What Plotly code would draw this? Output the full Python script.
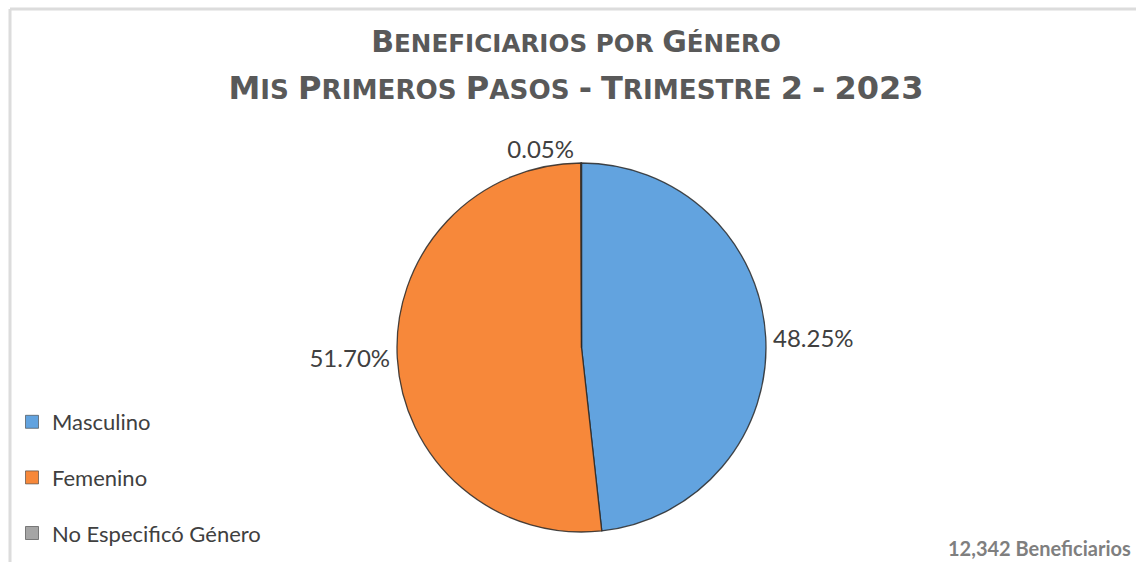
import plotly.graph_objects as go

# ---- data ----
categories = ["Masculino", "Femenino", "No Especificó Género"]
beneficiarios = [5955, 6381, 6]
slice_colors = ["#62A3DF", "#F7883A", "#A5A5A5"]
title_line1 = "Beneficiarios por Género"
title_line2 = "Mis Primeros Pasos - Trimestre 2 - 2023"
total_label = "12,342 Beneficiarios"

W, H = 1136, 562
cx, cy, r = 581.5, 347.5, 184.5
FONT = "Lato"
TFONT = "DejaVu Sans"


def small_caps(text, big, small):
    """Emulate small caps: capitals/digits at full size, lowercase at reduced size
    (the text keeps its original letters; case is changed only by textcase)."""
    out = []
    cur_size, buf = None, ""
    for ch in text:
        size = small if (ch.islower() or ch == " ") else big
        if size != cur_size and buf:
            out.append(f"<span style='font-size:{cur_size}px'>{buf}</span>")
            buf = ""
        cur_size = size
        buf += ch
    if buf:
        out.append(f"<span style='font-size:{cur_size}px'>{buf}</span>")
    return "".join(out)


fig = go.Figure()
fig.add_trace(go.Pie(
    labels=categories, values=beneficiarios, sort=False,
    direction="clockwise", rotation=0,
    marker=dict(colors=slice_colors, line=dict(color="rgba(40,40,40,0.85)", width=1.3)),
    texttemplate="%{percent:.2%}", textposition="outside",
    textfont=dict(family=FONT, size=24, color="#404040"),
    domain=dict(x=[(cx - r) / W, (cx + r) / W], y=[1 - (cy + r) / H, 1 - (cy - r) / H]),
    showlegend=False,
))

for name, col in zip(categories, slice_colors):
    fig.add_trace(go.Scatter(
        x=[None], y=[None], mode="markers", name=name, legendgroup=name,
        marker=dict(symbol="square", size=13, color=col, line=dict(color="rgba(60,60,60,0.6)", width=1)),
        hoverinfo="skip",
    ))

title_text = small_caps(title_line1, 30, 24.6) + "<br>" + small_caps(title_line2, 32, 26.2)

fig.update_layout(
    width=W, height=H,
    margin=dict(l=0, r=0, t=0, b=0),
    paper_bgcolor="white", plot_bgcolor="white",
    xaxis=dict(visible=False), yaxis=dict(visible=False),
    title=dict(
        text=title_text,
        font=dict(family=TFONT, size=36, color="#595959", weight="bold", textcase="upper"),
        x=576 / W, xanchor="center", xref="paper",
        y=1 - 52 / H, yanchor="top", yref="container",
    ),
    legend=dict(
        x=12 / W, xanchor="left", y=1 - 401 / H, yanchor="top",
        font=dict(family=FONT, size=22, color="#404040"),
        tracegroupgap=24, bgcolor="rgba(0,0,0,0)",
    ),
    shapes=[
        dict(type="line", xref="paper", yref="paper", x0=10 / W, x1=1, y0=1 - 9 / H, y1=1 - 9 / H,
             line=dict(color="#DCDCDC", width=3)),
        dict(type="line", xref="paper", yref="paper", x0=10 / W, x1=10 / W, y0=0, y1=1 - 9 / H,
             line=dict(color="#DCDCDC", width=3)),
    ],
    annotations=[
        dict(text=total_label, x=1133 / W, y=1 - 548 / H, xref="paper", yref="paper",
             xanchor="right", yanchor="middle", showarrow=False,
             font=dict(family=FONT, size=20, color="#7F7F7F", weight="bold")),
    ],
)

fig.write_html(
    "out.html",
    config={"displayModeBar": False},
    post_script="document.body.style.margin='0';document.body.style.overflow='hidden';",
)
